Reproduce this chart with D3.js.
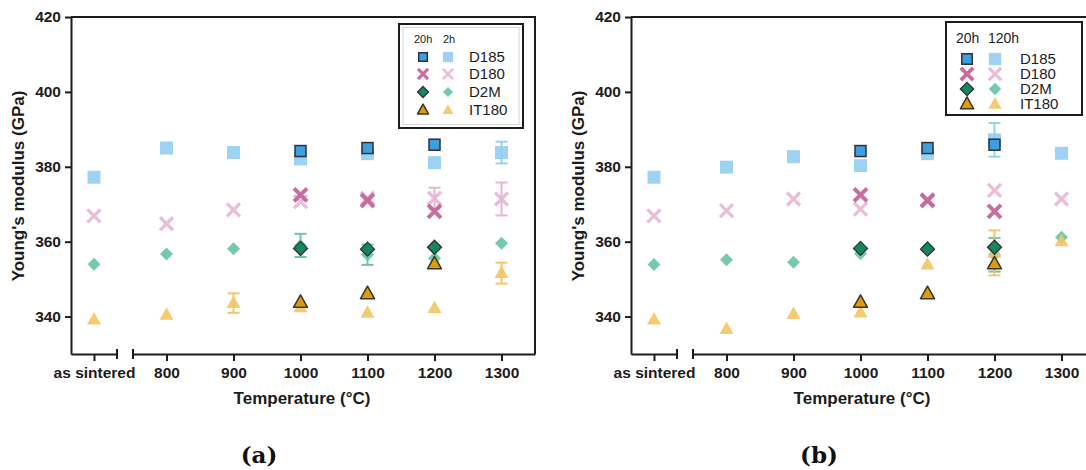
<!DOCTYPE html>
<html>
<head>
<meta charset="utf-8">
<script src="https://cdn.jsdelivr.net/npm/d3@7"></script>
<style>
  html, body { margin: 0; padding: 0; background: #fff; }
  svg { display: block; font-family: "Liberation Sans", Arial, sans-serif; }
</style>
</head>
<body>
<svg id="chart" width="1086" height="470"></svg>
<script>
// ---- data -------------------------------------------------------------
const temps = ["as sintered", 800, 900, 1000, 1100, 1200, 1300];
const tempTicks = [800, 900, 1000, 1100, 1200, 1300];
const yTicks = [340, 360, 380, 400, 420];
const materials = ["D185", "D180", "D2M", "IT180"];

// 20 h anneals (1000–1200 °C), shown in both panels
const d185_20h  = [null, null, null, 384.2, 385.0, 385.9, null];
const d180_20h  = [null, null, null, 372.5, 371.0, 368.1, null];
const d2m_20h   = [null, null, null, 358.2, 358.0, 358.5, null];
const it180_20h = [null, null, null, 343.8, 346.1, 354.1, null];

// (a) 2 h anneals, with standard deviations (0 = no bar)
const d185_2h     = [377.2, 385.0, 383.8, 382.1, 383.5, 381.1, 383.8];
const d185_2hErr  = [0, 0, 0, 0, 0, 0, 2.9];
const d180_2h     = [366.9, 364.8, 368.5, 370.7, 371.6, 371.6, 371.4];
const d180_2hErr  = [0, 0, 0, 0, 0, 2.8, 4.4];
const d2m_2h      = [354.0, 356.7, 358.1, 359.0, 356.5, 355.6, 359.6];
const d2m_2hErr   = [0, 0, 0, 3.1, 2.7, 0, 0];
const it180_2h    = [339.2, 340.5, 343.6, 342.5, 341.0, 342.3, 351.6];
const it180_2hErr = [0, 0, 2.6, 0, 0, 0, 2.8];

// (b) 120 h anneals
const d185_120h     = [377.2, 379.9, 382.7, 380.3, 383.5, 387.2, 383.6];
const d185_120hErr  = [0, 0, 0, 0, 0, 4.5, 0];
const d180_120h     = [366.9, 368.3, 371.4, 368.7, 371.2, 373.7, 371.4];
const d180_120hErr  = [0, 0, 0, 0, 0, 0, 0];
const d2m_120h      = [353.9, 355.2, 354.5, 356.8, 358.5, 356.5, 361.2];
const d2m_120hErr   = [0, 0, 0, 0, 0, 4.5, 0];
const it180_120h    = [339.2, 336.7, 340.7, 341.1, 353.9, 357.0, 360.1];
const it180_120hErr = [0, 0, 0, 0, 0, 6.0, 0];

// ---- styles -----------------------------------------------------------
const style = {
  D185:  { shape: "square",   light: "#92cdf2", dark: "#3d9fe3" },
  D180:  { shape: "cross",    light: "#e6b1d1", dark: "#c5659d" },
  D2M:   { shape: "diamond",  light: "#66c5a0", dark: "#15875f" },
  IT180: { shape: "triangle", light: "#f3c464", dark: "#e09c05" }
};
const outline = "#2d3136";
const ink = "#1c1c1c";

const svg = d3.select("#chart");

// one marker; k scales its size
function marker(g, shape, cx, cy, heavy, col, k) {
  k = k || 1;
  if (shape === "square") {
    const s = (heavy ? 11 : 13) * k;
    g.append("rect").attr("x", cx - s / 2).attr("y", cy - s / 2)
      .attr("width", s).attr("height", s)
      .attr("fill", col).attr("fill-opacity", heavy ? 1 : 0.9)
      .attr("stroke", heavy ? outline : "none").attr("stroke-width", 1.5);
  } else if (shape === "cross") {
    const h = 6.5 * k;
    g.append("path")
      .attr("d", `M${cx - h},${cy - h}L${cx + h},${cy + h}M${cx - h},${cy + h}L${cx + h},${cy - h}`)
      .attr("stroke", col).attr("stroke-width", (heavy ? 4 : 3.4) * k)
      .attr("stroke-opacity", heavy ? 0.95 : 0.85).attr("fill", "none");
  } else if (shape === "diamond") {
    const h = (heavy ? 7 : 6.5) * k;
    g.append("path")
      .attr("d", `M${cx},${cy - h}L${cx + h},${cy}L${cx},${cy + h}L${cx - h},${cy}Z`)
      .attr("fill", col).attr("fill-opacity", heavy ? 1 : 0.9)
      .attr("stroke", heavy ? outline : "none").attr("stroke-width", 1.3);
  } else {
    const w = 7 * k, ht = 12.5 * k;
    g.append("path")
      .attr("d", `M${cx},${cy - ht * 0.6}L${cx + w},${cy + ht * 0.4}L${cx - w},${cy + ht * 0.4}Z`)
      .attr("fill", col).attr("fill-opacity", heavy ? 1 : 0.9)
      .attr("stroke", heavy ? "#3a3326" : "none").attr("stroke-width", 1.5)
      .attr("stroke-linejoin", "round");
  }
}

function styleAxis(sel) {
  sel.select(".domain").attr("stroke", ink).attr("stroke-width", 2);
  sel.selectAll(".tick line").attr("stroke", ink).attr("stroke-width", 2);
  sel.selectAll(".tick text")
    .attr("fill", ink).attr("font-size", 15.5).attr("font-weight", "bold")
    .attr("font-family", '"Liberation Sans", Arial, sans-serif');
}

function drawPanel(offset, light, lightErr, legend, caption) {
  const g = svg.append("g").attr("transform", `translate(${offset},0)`);

  const y = d3.scaleLinear().domain([330, 420]).range([354, 17]);
  const xBreak = d3.scalePoint().domain(["as sintered"]).range([71, 117]).padding(0.5);
  const xLin = d3.scaleLinear().domain([750, 1350]).range([133, 535]);
  const xPos = t => (t === "as sintered" ? xBreak(t) : xLin(t));
  const y0 = y.range()[0];

  // frame (top and right)
  g.append("path")
    .attr("d", `M${xBreak.range()[0]},${y(420)}H${xLin.range()[1]}V${y0}`)
    .attr("fill", "none").attr("stroke", ink).attr("stroke-width", 2);

  // y axis
  const ya = g.append("g").attr("transform", `translate(${xBreak.range()[0]},0)`)
    .call(d3.axisLeft(y).tickValues(yTicks).tickSize(6).tickSizeOuter(0).tickPadding(4));
  styleAxis(ya);

  // broken x axis: "as sintered" stub, then the temperature range
  const xa1 = g.append("g").attr("transform", `translate(0,${y0})`)
    .call(d3.axisBottom(xBreak).tickSize(7).tickSizeOuter(0).tickPadding(6));
  styleAxis(xa1);
  const xa2 = g.append("g").attr("transform", `translate(0,${y0})`)
    .call(d3.axisBottom(xLin).tickValues(tempTicks).tickFormat(d3.format("d"))
      .tickSize(7).tickSizeOuter(0).tickPadding(6));
  styleAxis(xa2);
  [xBreak.range()[1], xLin.range()[0]].forEach(bx => {
    g.append("line").attr("x1", bx).attr("x2", bx)
      .attr("y1", y0 - 5).attr("y2", y0 + 5)
      .attr("stroke", ink).attr("stroke-width", 2);
  });

  // axis titles
  g.append("text").attr("x", 302).attr("y", 404).attr("text-anchor", "middle")
    .attr("font-size", 17).attr("font-weight", "bold").attr("fill", ink)
    .text("Temperature (°C)");
  g.append("text").attr("transform", "translate(24,186) rotate(-90)")
    .attr("text-anchor", "middle").attr("font-size", 17).attr("font-weight", "bold")
    .attr("fill", ink).text("Young's modulus (GPa)");

  // caption
  g.append("text").attr("x", 259).attr("y", 463).attr("text-anchor", "middle")
    .attr("font-family", '"DejaVu Serif", "Liberation Serif", serif')
    .attr("font-weight", "bold").attr("font-size", 23).attr("fill", "#111")
    .text(caption);

  const shortAnneal = [d185_20h, d180_20h, d2m_20h, it180_20h];
  const marks = g.append("g");

  // longer anneals first (light), error bars with them
  materials.forEach((m, i) => {
    const st = style[m];
    temps.forEach((t, j) => {
      const v = light[i][j], e = lightErr[i][j];
      if (v == null) return;
      const cx = xPos(t);
      if (e > 0) {
        const bar = marks.append("g").attr("stroke", st.light).attr("stroke-width", 2)
          .attr("stroke-opacity", 0.95);
        bar.append("line").attr("x1", cx).attr("x2", cx).attr("y1", y(v - e)).attr("y2", y(v + e));
        [v - e, v + e].forEach(c => bar.append("line")
          .attr("x1", cx - 6).attr("x2", cx + 6).attr("y1", y(c)).attr("y2", y(c)));
      }
      marker(marks, st.shape, cx, y(v), false, st.light);
    });
  });
  // 20 h anneals on top
  materials.forEach((m, i) => {
    const st = style[m];
    temps.forEach((t, j) => {
      const v = shortAnneal[i][j];
      if (v == null) return;
      marker(marks, st.shape, xPos(t), y(v), true, st.dark);
    });
  });

  // legend
  const L = g.append("g");
  L.append("rect").attr("x", legend.x).attr("y", legend.y)
    .attr("width", legend.w).attr("height", legend.h)
    .attr("fill", "#fff").attr("stroke", ink).attr("stroke-width", 2);
  if (legend.inner) {
    L.append("rect").attr("x", legend.x + 4).attr("y", legend.y + 3.5)
      .attr("width", legend.w - 8).attr("height", legend.h - 7)
      .attr("fill", "none").attr("stroke", "#d4d4d4").attr("stroke-width", 1);
  }
  legend.head.forEach((h, k) => {
    L.append("text").attr("x", legend.headX[k]).attr("y", legend.headY)
      .attr("font-size", legend.headSize).attr("fill", ink).text(h);
  });
  materials.forEach((m, i) => {
    const st = style[m], ry = legend.rowY[i];
    marker(L, st.shape, legend.markX[0], ry, true, st.dark, legend.k);
    marker(L, st.shape, legend.markX[1], ry, false, st.light, legend.k);
    L.append("text").attr("x", legend.labelX).attr("y", ry)
      .attr("dy", "0.36em").attr("font-size", legend.labelSize).attr("fill", ink).text(m);
  });
}

drawPanel(0,
  [d185_2h, d180_2h, d2m_2h, it180_2h],
  [d185_2hErr, d180_2hErr, d2m_2hErr, it180_2hErr],
  { x: 399, y: 24, w: 124, h: 104, inner: true,
    head: ["20h", "2h"], headX: [414, 443], headY: 43, headSize: 11,
    markX: [423, 448], labelX: 469, rowY: [57, 74, 92, 110], labelSize: 15, k: 0.78 },
  "(a)");

drawPanel(560,
  [d185_120h, d180_120h, d2m_120h, it180_120h],
  [d185_120hErr, d180_120hErr, d2m_120hErr, it180_120hErr],
  { x: 386, y: 22, w: 136, h: 93, inner: false,
    head: ["20h", "120h"], headX: [396, 428], headY: 43, headSize: 14,
    markX: [407, 435], labelX: 460, rowY: [59, 74, 89, 104], labelSize: 15, k: 0.95 },
  "(b)");
</script>
</body>
</html>
